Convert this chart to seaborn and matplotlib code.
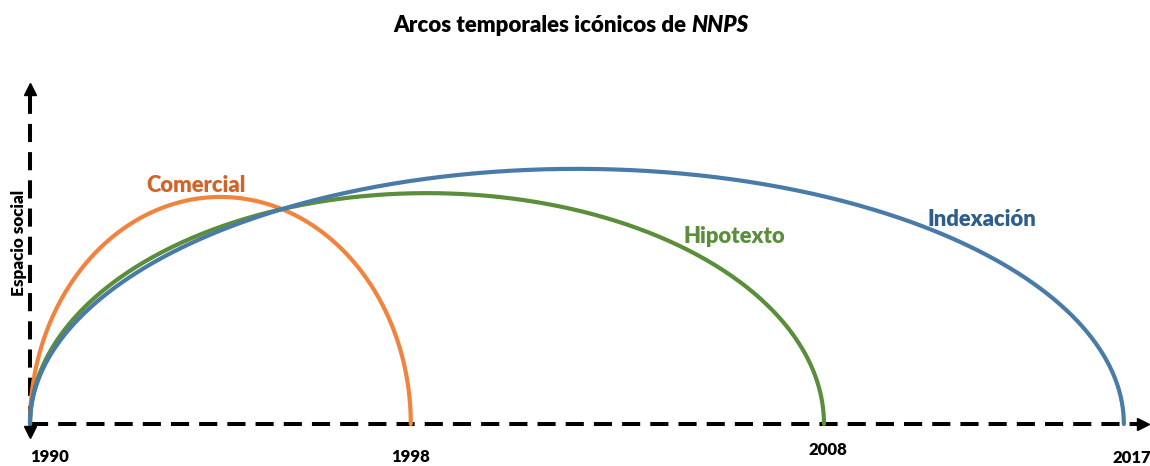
import numpy as np
import pandas as pd
import matplotlib
matplotlib.use("Agg")
import matplotlib.pyplot as plt
import seaborn as sns

# ---- data (schematic units: 1 unit ~ 1 year at the 1990-1998 scale) ----
series = ["Comercial", "Hipotexto", "Indexación"]
start_pos = [0.0, 0.0, 0.0]
end_pos = [8.0, 16.68, 22.98]          # where each arc lands on the time axis
heights = [4.77, 4.85, 5.36]           # arc height on "Espacio social"
tick_years = ["1990", "1998", "2008", "2017"]
tick_pos = [0.0, 8.0, 16.68, 22.98]

line_colors = {"Comercial": "#F0843F", "Hipotexto": "#5B8E3A", "Indexación": "#4A7BA8"}
label_colors = {"Comercial": "#D0652A", "Hipotexto": "#5B8E3A", "Indexación": "#2E5E8C"}

# ---- build arcs (half-ellipses between start and end) ----
rows = []
for name, s, e, h in zip(series, start_pos, end_pos, heights):
    t = np.linspace(np.pi, 0, 400)
    c, a = (s + e) / 2, (e - s) / 2
    xs = c + a * np.cos(t)
    ys = h * np.sin(t)
    for i, (x, y) in enumerate(zip(xs, ys)):
        rows.append({"serie": name, "order": i, "x": x, "y": y})
df = pd.DataFrame(rows)

sns.set_theme(style="white")
plt.rcParams["font.family"] = ["Lato", "DejaVu Sans"]
W = "heavy"

fig = plt.figure(figsize=(11.5, 4.66), dpi=100)
ax = fig.add_axes([0, 0, 1, 1])
ax.set_xlim(-30 / 47.6, 1120 / 47.6)
ax.set_ylim(-42 / 47.6, 424 / 47.6)
ax.axis("off")

sns.lineplot(data=df, x="x", y="y", hue="serie", units="serie", estimator=None,
             sort=False, palette=line_colors, linewidth=3.0, legend=False, ax=ax,
             zorder=3)

# ---- dashed axes with arrowheads ----
axis_kw = dict(color="black", linewidth=2.9, dashes=(4.5, 2.5), solid_capstyle="butt",
               zorder=2, clip_on=False)
ax.plot([0, 23.30], [0, 0], **axis_kw)
ax.plot([0, 0], [0, 7.0], **axis_kw)
ax.plot([23.38], [0], marker=">", markersize=9, color="black", clip_on=False, zorder=4)
ax.plot([0], [7.04], marker="^", markersize=9, color="black", clip_on=False, zorder=4)
ax.plot([0], [-0.16], marker="v", markersize=9, color="black", clip_on=False, zorder=4)

# ---- tick labels ----
tick_y = [-0.70, -0.70, -0.55, -0.72]
tick_ha = ["left", "center", "center", "center"]
tick_x = [0.0, 8.0, 16.76, 23.15]
for lab, x, y, ha in zip(tick_years, tick_x, tick_y, tick_ha):
    ax.text(x, y, lab, ha=ha, va="center", fontsize=12, fontweight=W,
            color="black", clip_on=False)

# ---- series labels ----
label_xy = {"Comercial": (3.49, 5.02), "Hipotexto": (14.79, 3.93), "Indexación": (20.0, 4.29)}
for name in series:
    x, y = label_xy[name]
    ax.text(x, y, name, ha="center", va="center", fontsize=15.8, fontweight=W,
            color=label_colors[name])

# ---- y label ----
ax.text(-11 / 47.6, (424 - 243) / 47.6, "Espacio social", rotation=90, ha="center",
        va="center", fontsize=12.3, fontweight=W, color="black")

# ---- title with italic NNPS ----
t1 = fig.text(393 / 1150, 1 - 25 / 466, "Arcos temporales icónicos de ", ha="left",
              va="center", fontsize=16, fontweight=W, color="black")
ax.annotate("NNPS", xy=(1, 0.5), xycoords=t1, ha="left", va="center",
            fontsize=16, fontweight=W, fontstyle="italic", color="black",
            annotation_clip=False)

fig.savefig("out.png", dpi=100)
